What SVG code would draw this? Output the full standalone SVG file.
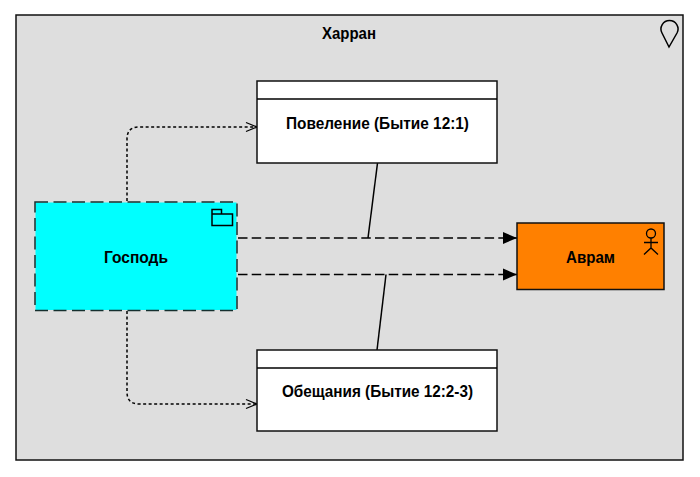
<svg xmlns="http://www.w3.org/2000/svg" width="700" height="477" viewBox="0 0 700 477">
<style>
text{font-family:"Liberation Sans",Arial,sans-serif;font-size:16px;font-weight:bold;fill:#000;text-anchor:middle}
.b{stroke:#111;stroke-width:1.5;fill:#fff}
.l{stroke:#000;stroke-width:1.5;fill:none}
.dash{stroke-dasharray:9.5 4.2}
.dot{stroke-dasharray:3 2.500}
</style>
<defs>
<marker id="solid" markerUnits="userSpaceOnUse" markerWidth="16" markerHeight="14" refX="15" refY="7" orient="auto"><path d="M1 1L15 7L1 13z" fill="#000"/></marker>
<marker id="open" markerUnits="userSpaceOnUse" markerWidth="14" markerHeight="12" refX="13" refY="6" orient="auto"><path d="M2 1.500L13 6L2 10.500" fill="none" stroke="#000" stroke-width="1.300"/></marker>
</defs>
<rect width="700" height="477" fill="#fff"/>
<g id="harran">
<rect x="16" y="15" width="667" height="445" fill="#dedede" stroke="#111" stroke-width="1.5"/>
<text x="349" y="38.500" textLength="54" lengthAdjust="spacingAndGlyphs">Харран</text>
<path class="l" d="M669 47L662 33A8.5 8.5 0 1 1 677 33Z" stroke-width="1.3"/>
</g>
<g id="connectors">
<path class="l dot" d="M127 201V139Q127 127 139 127H257" marker-end="url(#open)"/>
<path class="l dot" d="M127 311V392Q127 404 139 404H257" marker-end="url(#open)"/>
<path class="l dash" d="M238 238H517" marker-end="url(#solid)"/>
<path class="l dash" d="M238 274.500H517" marker-end="url(#solid)"/>
<path class="l" d="M377.500 163L368 238"/>
<path class="l" d="M386 274.500L377 350"/>
</g>
<g id="povelenie">
<rect class="b" x="257" y="81" width="240" height="82"/>
<path class="l" d="M257 99H497"/>
<text x="377.500" y="128.500" textLength="183" lengthAdjust="spacingAndGlyphs">Повеление (Бытие 12:1)</text>
</g>
<g id="obeshchania">
<rect class="b" x="257" y="350" width="240" height="81"/>
<path class="l" d="M257 368H497"/>
<text x="377.500" y="397" textLength="191" lengthAdjust="spacingAndGlyphs">Обещания (Бытие 12:2-3)</text>
</g>
<g id="gospod">
<rect x="35.500" y="202.500" width="201" height="107.500" fill="#00ffff"/>
<rect x="35" y="202" width="202" height="108.500" fill="none" stroke="#16302f" stroke-width="1.500" stroke-dasharray="13 5.500"/>
<text x="136" y="263" textLength="64" lengthAdjust="spacingAndGlyphs">Господь</text>
<path class="l" d="M212 214H232.500V225.500H212ZM212 214V209.500H221.500V214"/>
</g>
<g id="avram">
<rect x="517" y="223" width="147" height="66.500" fill="#ff8000" stroke="#111" stroke-width="1.500"/>
<text x="590.500" y="263" textLength="49" lengthAdjust="spacingAndGlyphs">Аврам</text>
<g fill="none" stroke="#000" stroke-width="1.300">
<circle cx="651" cy="233.500" r="4.500"/>
<path d="M651 238V248M644 242.500H658M644 254.500L651 248L658 254.500"/>
</g>
</g>
</svg>
